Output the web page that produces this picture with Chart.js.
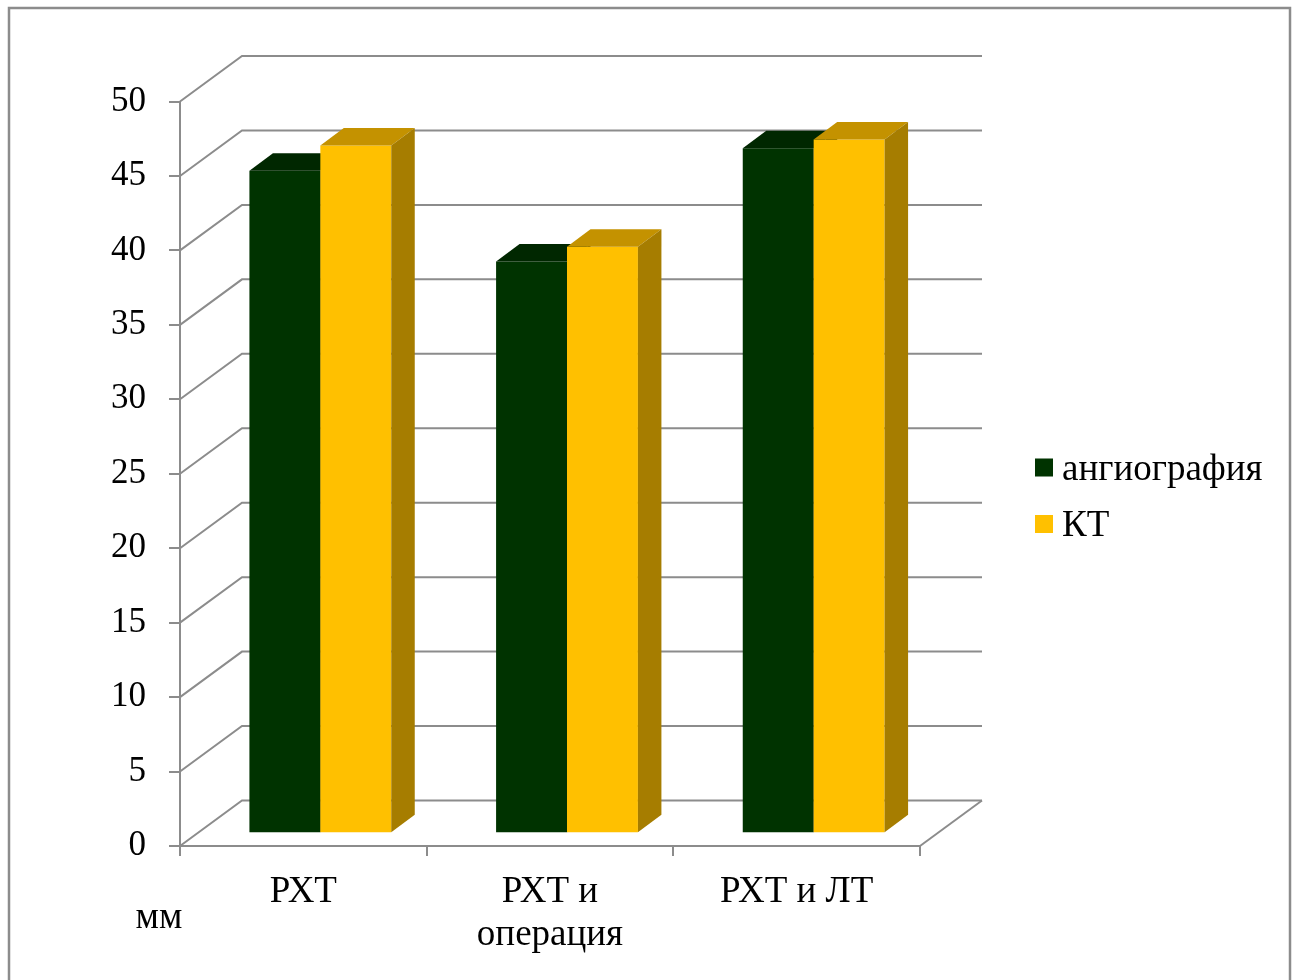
<!DOCTYPE html>
<html>
<head>
<meta charset="utf-8">
<script src="https://cdn.jsdelivr.net/npm/chart.js@4/dist/chart.umd.min.js"></script>
<style>
  html, body { margin: 0; padding: 0; background: #ffffff; }
  #wrap { width: 1296px; height: 980px; position: relative; }
</style>
</head>
<body>
<div id="wrap"><canvas id="chart" width="1296" height="980"></canvas></div>
<script>
// Categories (treatment groups) and the two measured series, mm
const categories = [['РХТ'], ['РХТ и', 'операция'], ['РХТ и ЛТ']];
const seriesNames = ['ангиография', 'КТ'];
const angioValues = [44.5, 38.4, 46.0];
const ctValues = [46.2, 39.4, 46.6];
const yMin = 0;
const yMax = 50;
const yStep = 5;
const unitLabel = 'мм';

// Styling
const FONT = '"Liberation Serif", "Times New Roman", serif';
const GRID = '#8c8c8c';
const frontColors = ['#003300', '#FFC000'];
const topColors = ['#002700', '#C49200'];
const sideColors = ['#001c00', '#A67D00'];

// Oblique depth of the floor / walls, and the bar slab inside it
const WALL_DX = 62, WALL_DY = 45.5;
const BAR_DX = 17, BAR_DY = 12.7;
const SLAB_DX = 23.5, SLAB_DY = 17.5;

const scene3d = {
  id: 'scene3d',
  beforeDatasetsDraw(chart) {
    const { ctx, chartArea: a, scales: { y } } = chart;
    ctx.save();
    ctx.strokeStyle = GRID;
    ctx.lineWidth = 2;
    ctx.lineCap = 'butt';
    y.ticks.forEach(t => {
      const py = y.getPixelForValue(t.value);
      ctx.beginPath();
      ctx.moveTo(a.left, py);
      ctx.lineTo(a.left + WALL_DX, py - WALL_DY);
      ctx.lineTo(a.right + WALL_DX, py - WALL_DY);
      ctx.stroke();
    });
    // floor right edge
    ctx.beginPath();
    ctx.moveTo(a.right, a.bottom);
    ctx.lineTo(a.right + WALL_DX, a.bottom - WALL_DY);
    ctx.stroke();
    ctx.restore();
  },
  // bars are painted below, series by series, so the faces overlap in depth order
  beforeDatasetDraw() {
    return false;
  },
  afterDatasetsDraw(chart) {
    const { ctx } = chart;
    ctx.save();
    ctx.translate(BAR_DX, -BAR_DY);
    chart.data.datasets.forEach((ds, di) => {
      const meta = chart.getDatasetMeta(di);
      meta.data.forEach(el => {
        el.draw(ctx);
        const { x, y, base, width } = el.getProps(['x', 'y', 'base', 'width'], true);
        const l = x - width / 2, r = x + width / 2;
        // top face
        ctx.fillStyle = topColors[di];
        ctx.beginPath();
        ctx.moveTo(l, y);
        ctx.lineTo(r, y);
        ctx.lineTo(r + SLAB_DX, y - SLAB_DY);
        ctx.lineTo(l + SLAB_DX, y - SLAB_DY);
        ctx.closePath();
        ctx.fill();
        // right side face
        ctx.fillStyle = sideColors[di];
        ctx.beginPath();
        ctx.moveTo(r, y);
        ctx.lineTo(r + SLAB_DX, y - SLAB_DY);
        ctx.lineTo(r + SLAB_DX, base - SLAB_DY);
        ctx.lineTo(r, base);
        ctx.closePath();
        ctx.fill();
      });
    });
    ctx.restore();
  },
  afterDraw(chart) {
    const { ctx } = chart;
    ctx.save();
    // outer frame
    ctx.strokeStyle = GRID;
    ctx.lineWidth = 2.5;
    ctx.strokeRect(9, 8, 1281, 990);
    // legend
    ctx.font = '37px ' + FONT;
    ctx.textAlign = 'left';
    ctx.textBaseline = 'alphabetic';
    const rows = [467.5, 524];
    chart.data.datasets.forEach((ds, i) => {
      ctx.fillStyle = ds.backgroundColor;
      ctx.fillRect(1035, rows[i] - 9, 18, 18);
      ctx.fillStyle = '#000000';
      ctx.fillText(ds.label, 1062, rows[i] + 12);
    });
    // unit caption
    ctx.textAlign = 'center';
    ctx.fillText(unitLabel, 159, 928);
    ctx.restore();
  }
};

new Chart(document.getElementById('chart'), {
  type: 'bar',
  data: {
    labels: categories,
    datasets: [
      { label: seriesNames[0], data: angioValues, backgroundColor: frontColors[0] },
      { label: seriesNames[1], data: ctValues, backgroundColor: frontColors[1] }
    ]
  },
  options: {
    responsive: false,
    animation: false,
    devicePixelRatio: 1,
    layout: { padding: { left: 0, top: 101.5, right: 376, bottom: 0 } },
    datasets: { bar: { categoryPercentage: 0.575, barPercentage: 1, borderWidth: 0 } },
    plugins: { legend: { display: false }, tooltip: { enabled: false } },
    scales: {
      x: {
        grid: { display: true, drawOnChartArea: false, drawTicks: true, tickLength: 10, color: GRID, lineWidth: 2, offset: true },
        border: { display: true, color: GRID, width: 2 },
        ticks: { color: '#000000', font: { family: FONT, size: 37, lineHeight: 1.15 }, padding: 15, maxRotation: 0 },
        afterFit(s) { s.height = 980 - 846; }
      },
      y: {
        min: yMin, max: yMax,
        grid: { display: true, drawOnChartArea: false, drawTicks: true, tickLength: 11, color: GRID, lineWidth: 2 },
        border: { display: true, color: GRID, width: 2 },
        ticks: { stepSize: yStep, color: '#000000', font: { family: FONT, size: 35 }, padding: 23 },
        afterFit(s) { s.width = 180; }
      }
    }
  },
  plugins: [scene3d]
});
</script>
</body>
</html>
